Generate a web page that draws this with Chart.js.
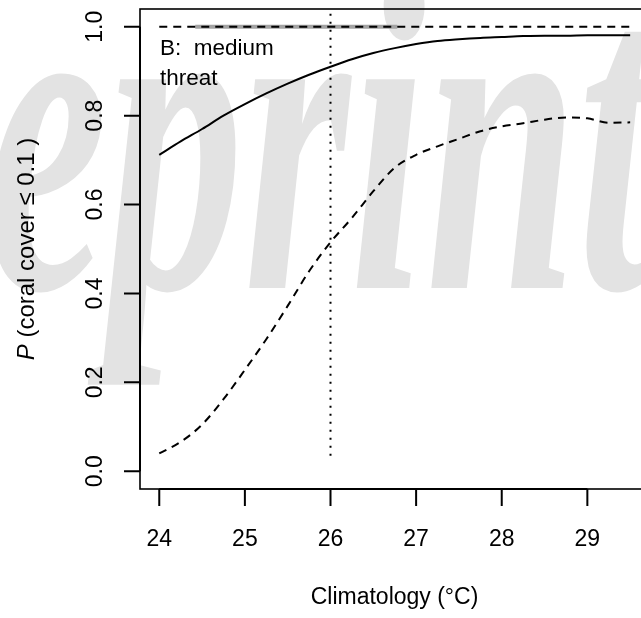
<!DOCTYPE html>
<html>
<head>
<meta charset="utf-8">
<script src="https://cdn.jsdelivr.net/npm/chart.js@4.4.0/dist/chart.umd.min.js"></script>
<style>
  html, body { margin: 0; padding: 0; background: #fff; overflow: hidden; }
  #wrap { width: 641px; height: 618px; overflow: hidden; }
  canvas { display: block; }
</style>
</head>
<body>
<div id="wrap"><canvas id="coralChart" width="660" height="618"></canvas></div>
<script>
// ----------- data -----------
const tempC = [24, 24.25, 24.5, 24.75, 25, 25.25, 25.5, 25.75, 26, 26.25, 26.5, 26.75,
               27, 27.25, 27.5, 27.75, 28, 28.25, 28.5, 28.75, 29, 29.25, 29.5];
const probSolid = [0.712, 0.742, 0.770, 0.800, 0.826, 0.850, 0.872, 0.892, 0.910, 0.927, 0.941, 0.952,
                   0.961, 0.968, 0.972, 0.975, 0.977, 0.979, 0.980, 0.980, 0.981, 0.981, 0.981];
const probDashed = [0.040, 0.066, 0.105, 0.162, 0.228, 0.297, 0.372, 0.450, 0.515, 0.570, 0.630, 0.683,
                    0.712, 0.731, 0.748, 0.765, 0.776, 0.783, 0.791, 0.796, 0.794, 0.784, 0.785];
const refLineX = [24, 29.5];
const refLineP = [1, 1];
const greyBandX = [24.42, 26.78];
const greyBandP = [1, 1];
const thresholdX = [26, 26];
const thresholdP = [0.035, 1.04];
const xTicks = [24, 25, 26, 27, 28, 29];
const yTicks = [0, 0.2, 0.4, 0.6, 0.8, 1.0];

const FONT = "'Liberation Sans', Arial, Helvetica, sans-serif";
const toXY = (xs, ys) => xs.map((x, i) => ({ x: x, y: ys[i] }));

// ----------- background, watermark, axes drawn by hand (R style) -----------
const rStyle = {
    id: 'rStyle',
    beforeDraw(chart) {
        const ctx = chart.ctx;
        ctx.save();
        ctx.fillStyle = '#fff';
        ctx.fillRect(0, 0, chart.width, chart.height);
        // faint watermark behind the plot
        ctx.translate(-14, 288);
        ctx.scale(0.6, 1);
        ctx.font = "italic bold 455px 'Liberation Serif', 'Times New Roman', serif";
        ctx.fillStyle = '#e3e3e3';
        ctx.textBaseline = 'alphabetic';
        ctx.fillText('eprint', 0, 0);
        ctx.restore();
    },
    afterDraw(chart) {
        const ctx = chart.ctx;
        const a = chart.chartArea;
        const xs = chart.scales.x, ys = chart.scales.y;
        ctx.save();
        ctx.strokeStyle = '#000';
        ctx.fillStyle = '#000';
        ctx.lineWidth = 1.6;
        ctx.strokeRect(a.left, a.top, a.right - a.left, a.bottom - a.top);

        // x axis
        ctx.lineWidth = 2;
        ctx.beginPath();
        ctx.moveTo(xs.getPixelForValue(xTicks[0]), a.bottom);
        ctx.lineTo(xs.getPixelForValue(xTicks[xTicks.length - 1]), a.bottom);
        xTicks.forEach(t => {
            const px = xs.getPixelForValue(t);
            ctx.moveTo(px, a.bottom);
            ctx.lineTo(px, a.bottom + 17);
        });
        ctx.stroke();
        ctx.font = '23px ' + FONT;
        ctx.textAlign = 'center';
        ctx.textBaseline = 'middle';
        xTicks.forEach(t => ctx.fillText(String(t), xs.getPixelForValue(t), 540));

        // y axis
        ctx.beginPath();
        ctx.moveTo(a.left, ys.getPixelForValue(yTicks[0]));
        ctx.lineTo(a.left, ys.getPixelForValue(yTicks[yTicks.length - 1]));
        yTicks.forEach(t => {
            const py = ys.getPixelForValue(t);
            ctx.moveTo(a.left, py);
            ctx.lineTo(a.left - 16, py);
        });
        ctx.stroke();
        yTicks.forEach(t => {
            ctx.save();
            ctx.translate(96, ys.getPixelForValue(t));
            ctx.rotate(-Math.PI / 2);
            ctx.fillText(t.toFixed(1), 0, 0);
            ctx.restore();
        });

        // axis titles
        ctx.fillText('Climatology (\u00B0C)', (a.left + a.right) / 2, 598);

        ctx.save();
        ctx.translate(27, (a.top + a.bottom) / 2);
        ctx.rotate(-Math.PI / 2);
        const italicFont = 'italic 24px ' + FONT;
        const plainFont = '24px ' + FONT;
        const rest = ' (coral cover \u2264 0.1 )';
        ctx.font = italicFont;
        const wP = ctx.measureText('P').width;
        ctx.font = plainFont;
        const wRest = ctx.measureText(rest).width;
        let x0 = -(wP + wRest) / 2;
        ctx.textAlign = 'left';
        ctx.font = italicFont;
        ctx.fillText('P', x0, 0);
        ctx.font = plainFont;
        ctx.fillText(rest, x0 + wP, 0);
        ctx.restore();

        // panel label
        ctx.font = '22.5px ' + FONT;
        ctx.textAlign = 'left';
        ctx.textBaseline = 'alphabetic';
        ctx.fillText('B:  medium', 160, 55);
        ctx.fillText('threat', 160, 85);
        ctx.restore();
    }
};

const ctx = document.getElementById('coralChart').getContext('2d');
new Chart(ctx, {
    type: 'line',
    data: {
        datasets: [
            {
                label: 'solid',
                data: toXY(tempC, probSolid),
                borderColor: '#000',
                borderWidth: 2,
                cubicInterpolationMode: 'monotone'
            },
            {
                label: 'dashed',
                data: toXY(tempC, probDashed),
                borderColor: '#000',
                borderWidth: 2,
                borderDash: [8, 6],
                cubicInterpolationMode: 'monotone'
            },
            {
                label: 'reference',
                data: toXY(refLineX, refLineP),
                borderColor: '#000',
                borderWidth: 2,
                borderDash: [8, 6]
            },
            {
                label: 'threshold',
                data: toXY(thresholdX, thresholdP),
                borderColor: '#000',
                borderWidth: 2,
                borderDash: [2, 6]
            },
            {
                label: 'band',
                data: toXY(greyBandX, greyBandP),
                borderColor: '#a3a3a3',
                borderWidth: 4
            }
        ]
    },
    options: {
        responsive: false,
        animation: false,
        layout: { padding: { left: 140, top: 9, right: 11, bottom: 129 } },
        elements: { point: { radius: 0 } },
        scales: {
            x: { type: 'linear', min: 23.775, max: 29.72, display: false },
            y: { type: 'linear', min: -0.04, max: 1.04, display: false }
        },
        plugins: {
            legend: { display: false },
            tooltip: { enabled: false }
        }
    },
    plugins: [rStyle]
});
</script>
</body>
</html>
